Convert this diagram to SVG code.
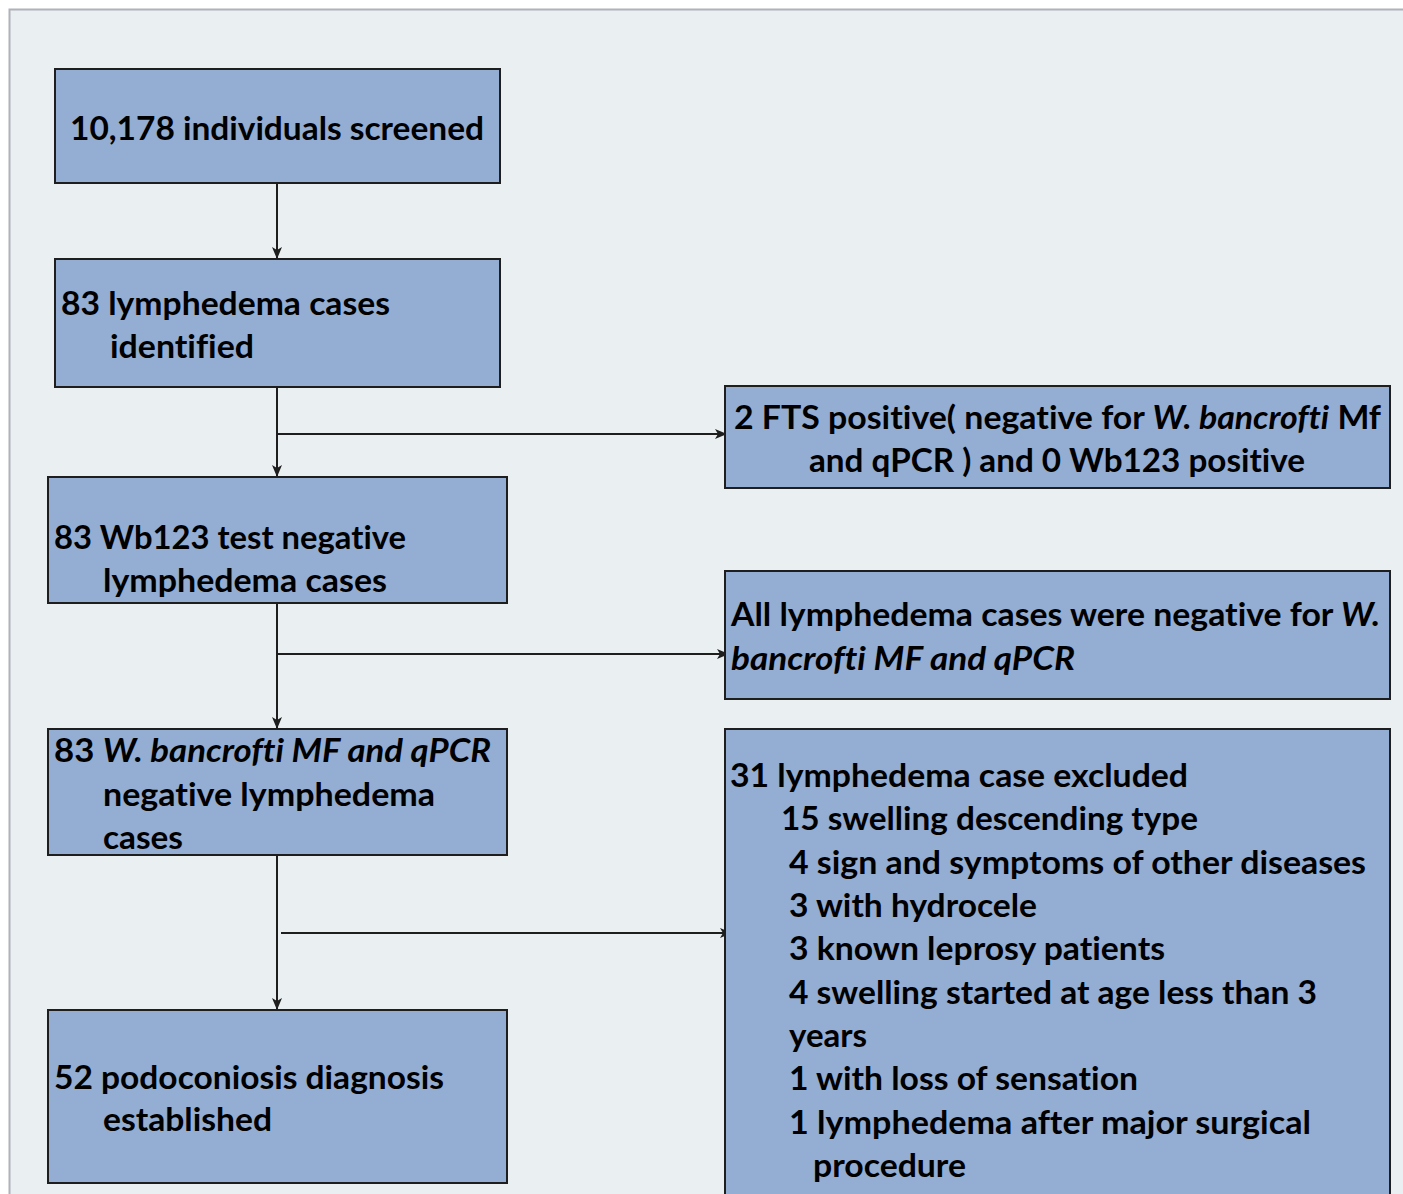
<svg xmlns="http://www.w3.org/2000/svg" width="1403" height="1194" viewBox="0 0 1403 1194">
<defs>
<style>
.box{fill:#93ADD3;stroke:#1E1E1E;stroke-width:2}
.t{font-family:Lato,"Liberation Sans",sans-serif;font-weight:bold;font-size:33px;fill:#000;font-variant-ligatures:none}
.i{font-style:italic}
.c{fill:none;stroke:#1E1E1E;stroke-width:2}
</style>
<marker id="ah" viewBox="0 0 12 10" refX="12" refY="5" markerWidth="12" markerHeight="10" markerUnits="userSpaceOnUse" orient="auto">
<path d="M0,0 L12,5 L0,10 L3,5 Z" fill="#1E1E1E"/>
</marker>
</defs>
<rect x="0" y="0" width="1403" height="1194" fill="#FFFFFF"/>
<rect x="9.5" y="9.5" width="1400" height="1200" fill="#EAEFF2" stroke="#AEB2BA" stroke-width="2"/>
<g id="connectors">
<line class="c" x1="277" y1="183" x2="277" y2="259" marker-end="url(#ah)"/>
<line class="c" x1="277" y1="387" x2="277" y2="477" marker-end="url(#ah)"/>
<line class="c" x1="277" y1="434" x2="727" y2="434" marker-end="url(#ah)"/>
<line class="c" x1="277" y1="603" x2="277" y2="729" marker-end="url(#ah)"/>
<line class="c" x1="277" y1="654" x2="729" y2="654" marker-end="url(#ah)"/>
<line class="c" x1="277" y1="855" x2="277" y2="1010" marker-end="url(#ah)"/>
<line class="c" x1="281" y1="933" x2="732" y2="933" marker-end="url(#ah)"/>
</g>
<g id="n1">
<rect class="box" x="55" y="69" width="445" height="114"/>
<text class="t" x="70" y="140" textLength="414" lengthAdjust="spacingAndGlyphs">10,178 individuals screened</text>
</g>
<g id="n2">
<rect class="box" x="55" y="259" width="445" height="128"/>
<text class="t" x="61" y="315" textLength="329" lengthAdjust="spacingAndGlyphs">83 lymphedema cases</text>
<text class="t" x="110" y="358" textLength="144" lengthAdjust="spacingAndGlyphs">identified</text>
</g>
<g id="n3">
<rect class="box" x="48" y="477" width="459" height="126"/>
<text class="t" x="54" y="549" textLength="352" lengthAdjust="spacingAndGlyphs">83 Wb123 test negative</text>
<text class="t" x="103" y="592" textLength="284" lengthAdjust="spacingAndGlyphs">lymphedema cases</text>
</g>
<g id="n4">
<rect class="box" x="48" y="729" width="459" height="126"/>
<text class="t" x="54" y="762" textLength="437" lengthAdjust="spacingAndGlyphs">83 <tspan class="i">W. bancrofti MF and qPCR</tspan></text>
<text class="t" x="103" y="806" textLength="332" lengthAdjust="spacingAndGlyphs">negative lymphedema</text>
<text class="t" x="103" y="849" textLength="80" lengthAdjust="spacingAndGlyphs">cases</text>
</g>
<g id="n5">
<rect class="box" x="48" y="1010" width="459" height="173"/>
<text class="t" x="54" y="1089" textLength="390" lengthAdjust="spacingAndGlyphs">52 podoconiosis diagnosis</text>
<text class="t" x="103" y="1131" textLength="169" lengthAdjust="spacingAndGlyphs">established</text>
</g>
<g id="r1">
<rect class="box" x="725" y="386" width="665" height="102"/>
<text class="t" x="734" y="429" textLength="647" lengthAdjust="spacingAndGlyphs">2 FTS positive( negative for <tspan class="i">W. bancrofti</tspan> Mf</text>
<text class="t" x="809" y="472" textLength="496" lengthAdjust="spacingAndGlyphs">and qPCR ) and 0 Wb123 positive</text>
</g>
<g id="r2">
<rect class="box" x="725" y="571" width="665" height="128"/>
<text class="t" x="731" y="626" textLength="649" lengthAdjust="spacingAndGlyphs">All lymphedema cases were negative for <tspan class="i">W.</tspan></text>
<text class="t i" x="731" y="670" textLength="344" lengthAdjust="spacingAndGlyphs">bancrofti MF and qPCR</text>
</g>
<g id="r3">
<rect class="box" x="725" y="729" width="665" height="480"/>
<text class="t" x="730" y="787" textLength="458" lengthAdjust="spacingAndGlyphs">31 lymphedema case excluded</text>
<text class="t" x="781" y="830" textLength="417" lengthAdjust="spacingAndGlyphs">15 swelling descending type</text>
<text class="t" x="789" y="874" textLength="577" lengthAdjust="spacingAndGlyphs">4 sign and symptoms of other diseases</text>
<text class="t" x="789" y="917" textLength="248" lengthAdjust="spacingAndGlyphs">3 with hydrocele</text>
<text class="t" x="789" y="960" textLength="376" lengthAdjust="spacingAndGlyphs">3 known leprosy patients</text>
<text class="t" x="789" y="1004" textLength="528" lengthAdjust="spacingAndGlyphs">4 swelling started at age less than 3</text>
<text class="t" x="789" y="1047" textLength="78" lengthAdjust="spacingAndGlyphs">years</text>
<text class="t" x="789" y="1090" textLength="349" lengthAdjust="spacingAndGlyphs">1 with loss of sensation</text>
<text class="t" x="789" y="1134" textLength="522" lengthAdjust="spacingAndGlyphs">1 lymphedema after major surgical</text>
<text class="t" x="813" y="1177" textLength="153" lengthAdjust="spacingAndGlyphs">procedure</text>
</g>
</svg>
